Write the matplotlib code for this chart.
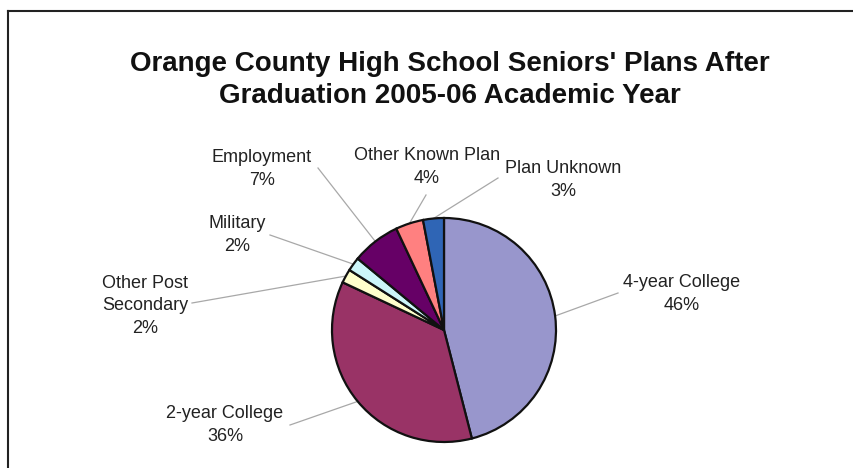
import numpy as np
import matplotlib
matplotlib.use("Agg")
import matplotlib.pyplot as plt
from matplotlib.lines import Line2D

# Plans after graduation, clockwise from 12 o'clock
categories = ["4-year College", "2-year College", "Other Post\nSecondary",
              "Military", "Employment", "Other Known Plan", "Plan Unknown"]
percentages = [46, 36, 2, 2, 7, 4, 3]
colors = ["#9896CC", "#993366", "#FFFFCC", "#CCF6FA", "#660066", "#FF8080", "#2F65B5"]

title = "Orange County High School Seniors' Plans After\nGraduation 2005-06 Academic Year"

W, H = 854, 468
# label centres and leader-line end points (pixel coordinates, y downward)
label_pos = [(682, 294), (225, 425), (145, 306), (237, 235), (262, 169), (427, 167), (563, 180)]
leader_end = [(618, 293), (290, 425), (192, 303), (270, 235), (318, 168), (426, 195), (498, 178)]

center_px = (444, 330)
radius = 112

plt.rcParams["font.family"] = ["Liberation Sans", "DejaVu Sans"]
fig = plt.figure(figsize=(W / 100, H / 100), dpi=100)
fig.patch.set_facecolor("white")
ax = fig.add_axes([0, 0, 1, 1])

cx, cy = center_px[0], H - center_px[1]
wedges, _ = ax.pie(percentages, colors=colors, startangle=90, counterclock=False,
                   center=(cx, cy), radius=radius,
                   wedgeprops=dict(edgecolor="#111111", linewidth=1.6))
ax.set_xlim(0, W)
ax.set_ylim(0, H)
ax.set_aspect("equal")
ax.set_axis_off()

for w, name, pct, (lx, ly), (ex, ey) in zip(wedges, categories, percentages, label_pos, leader_end):
    mid = np.deg2rad((w.theta1 + w.theta2) / 2)
    px, py = cx + radius * np.cos(mid), cy + radius * np.sin(mid)
    ax.plot([px, ex], [py, H - ey], color="#A8A8A8", linewidth=0.9, zorder=0)
    ax.text(lx, H - ly, f"{name}\n{pct}%", ha="center", va="center",
            fontsize=13, color="#222222", linespacing=1.42)

fig.text(450 / W, 1 - 79.5 / H, title, ha="center", va="center",
         fontsize=20, fontweight="bold", color="#111111", linespacing=1.3)

# outer frame (top and left edges visible)
fig.add_artist(Line2D([8 / W, 1], [1 - 11 / H, 1 - 11 / H], color="#222222", linewidth=1.5))
fig.add_artist(Line2D([8 / W, 8 / W], [0, 1 - 11 / H], color="#222222", linewidth=1.5))

fig.savefig("out.png", dpi=100)
